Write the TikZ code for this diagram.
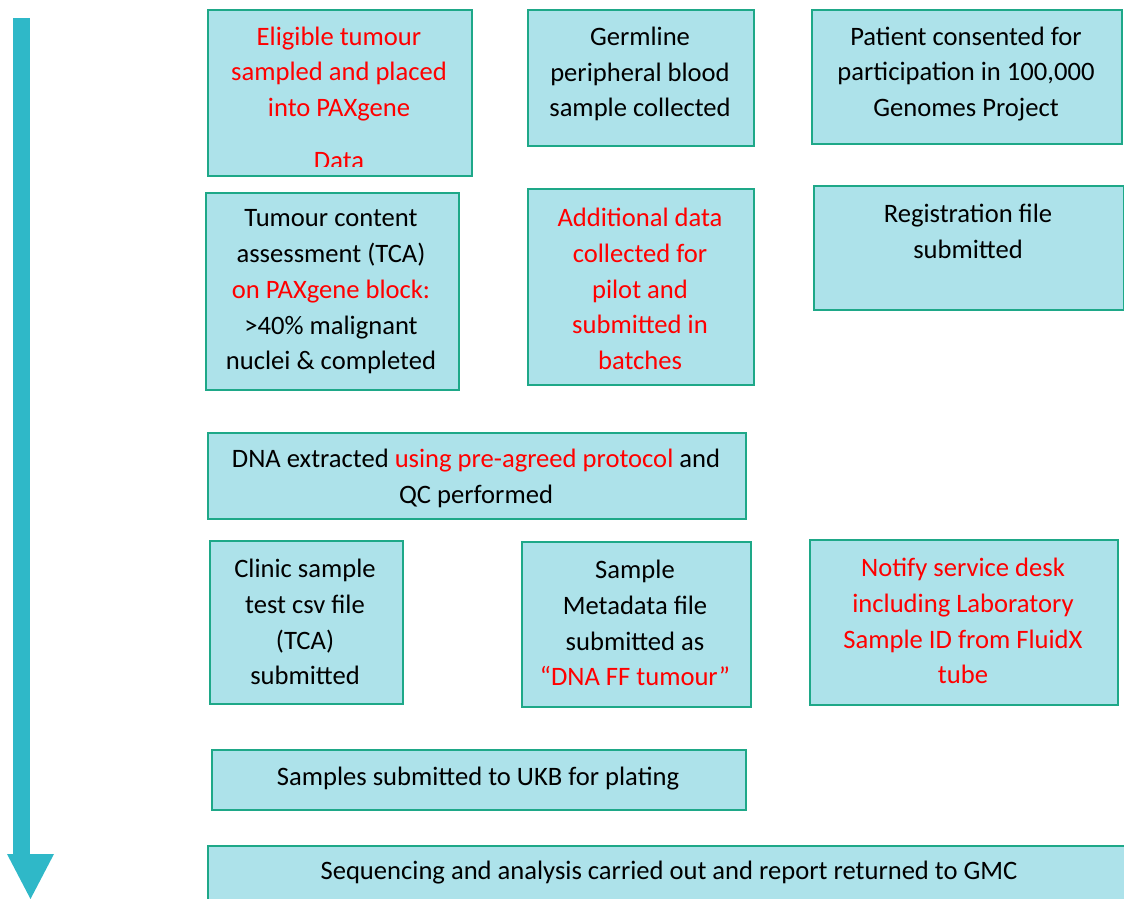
\documentclass[tikz,border=0pt]{standalone}
\usepackage{fontspec}
\setmainfont{Carlito}
\definecolor{boxfill}{RGB}{173,226,234}
\definecolor{boxline}{RGB}{30,168,136}
\definecolor{arrowc}{RGB}{47,184,200}
\definecolor{redt}{RGB}{255,0,0}
\tikzset{
  box/.style={draw=boxline, fill=boxfill, line width=1.8pt, anchor=north west, inner sep=0pt, rectangle},
  txt/.style={font=\fontsize{26.6}{35.8}\selectfont, align=center, inner sep=0pt, text=black},
}
\newcommand{\rt}[1]{\textcolor{redt}{#1}}
\begin{document}
\begin{tikzpicture}[x=1pt,y=-1pt]
\useasboundingbox (0,0) rectangle (1124,899);
% arrow
\coordinate (a1) at (13,18);
\coordinate (a2) at (30,854);
\coordinate (h1) at (7,854);
\coordinate (h2) at (54,854);
\coordinate (h3) at (30.5,899);
\fill[arrowc] (a1) rectangle (a2);
\fill[arrowc] (h1) -- (h2) -- (h3) -- cycle;
% boxes
\node[box, minimum width=264pt, minimum height=166pt] (b1) at (207,9) {};
\node[box, minimum width=226pt, minimum height=136pt] (b2) at (527,9) {};
\node[box, minimum width=310pt, minimum height=134pt] (b3) at (811,9) {};
\node[box, minimum width=253pt, minimum height=197pt] (b4) at (205,192) {};
\node[box, minimum width=226pt, minimum height=196pt] (b5) at (527,188) {};
\node[box, minimum width=310pt, minimum height=124pt] (b6) at (813,185) {};
\node[box, minimum width=538pt, minimum height=86pt] (b7) at (207,432) {};
\node[box, minimum width=193pt, minimum height=163pt] (b8) at (209,540) {};
\node[box, minimum width=229pt, minimum height=165pt] (b9) at (521,541) {};
\node[box, minimum width=308pt, minimum height=165pt] (b10) at (809,539) {};
\node[box, minimum width=534pt, minimum height=60pt] (b11) at (211,749) {};
\node[box, minimum width=930pt, minimum height=70pt] (b12) at (207,845) {};
% texts
\node[txt] (t1) at (339,74) {\rt{Eligible tumour}\\\rt{sampled and placed}\\\rt{into PAXgene}};
\begin{scope}
\clip (207,9) rectangle (471,166);
\node[txt] (t1b) at (339,161) {\rt{Data}};
\end{scope}
\node[txt] (t2) at (640,74) {Germline\\peripheral blood\\sample collected};
\node[txt] (t3) at (966,74) {Patient consented for\\participation in 100,000\\Genomes Project};
\node[txt] (t4) at (331,292) {Tumour content\\assessment (TCA)\\\rt{on PAXgene block:}\\>40\% malignant\\nuclei \& completed};
\node[txt] (t5) at (640,289) {\rt{Additional data}\\\rt{collected for}\\\rt{pilot and}\\\rt{submitted in}\\\rt{batches}};
\node[txt] (t6) at (968,231.5) {Registration file\\submitted};
\node[txt] (t7) at (476,478.5) {DNA extracted \rt{using pre-agreed protocol} and\\QC performed};
\node[txt] (t8) at (305,622) {Clinic sample\\test csv file\\(TCA)\\submitted};
\node[txt] (t9) at (635,623) {Sample\\Metadata file\\submitted as\\\rt{“DNA FF tumour”}};
\node[txt] (t10) at (963,621) {\rt{Notify service desk}\\\rt{including Laboratory}\\\rt{Sample ID from FluidX}\\\rt{tube}};
\node[txt] (t11) at (478,779) {Samples submitted to UKB for plating};
\node[txt] (t12) at (669,873) {Sequencing and analysis carried out and report returned to GMC};
\end{tikzpicture}
\end{document}
